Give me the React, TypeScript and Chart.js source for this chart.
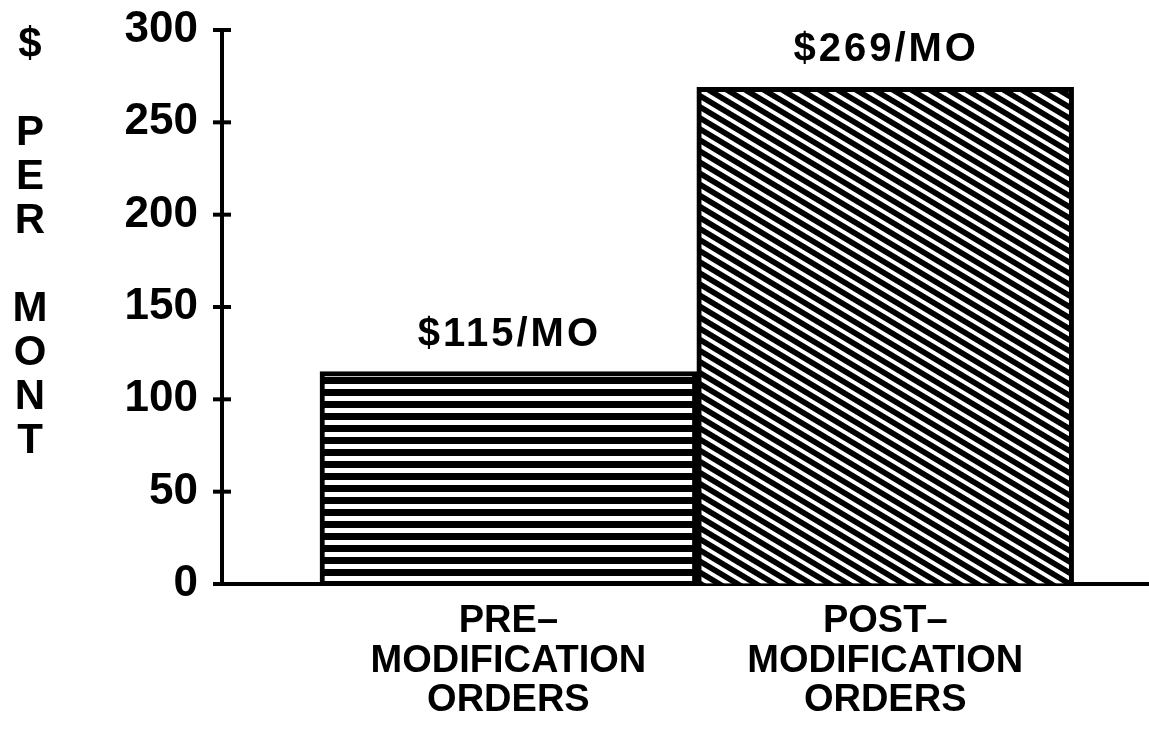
import React, { useEffect, useRef } from "react";
import { Chart, registerables } from "chart.js";

Chart.register(...registerables);

// ---- data ----
const categories: string[][] = [
  ["PRE–", "MODIFICATION", "ORDERS"],
  ["POST–", "MODIFICATION", "ORDERS"],
];
const values: number[] = [115, 269];
const yTicks: number[] = [0, 50, 100, 150, 200, 250, 300];
const yTitleWords: string[] = ["$", "PER", "MONT"];
const valueSuffix = "/MO";

const SANS = '"Liberation Sans", Arial, sans-serif';

function makeStripePattern(tileH: number, whiteH: number, angle: number, scale: number) {
  const tile = document.createElement("canvas");
  tile.width = 16;
  tile.height = tileH;
  const t = tile.getContext("2d")!;
  t.fillStyle = "#000";
  t.fillRect(0, 0, 16, tileH);
  t.fillStyle = "#fff";
  t.fillRect(0, 0, 16, whiteH);
  const ctx = document.createElement("canvas").getContext("2d")!;
  const p = ctx.createPattern(tile, "repeat")!;
  if (angle !== 0 || scale !== 1) {
    p.setTransform(new DOMMatrix().rotateSelf(angle).scaleSelf(scale, scale));
  }
  return p;
}

export default function App() {
  const ref = useRef<HTMLCanvasElement>(null);

  useEffect(() => {
    const canvas = ref.current!;
    const prePattern = makeStripePattern(12, 5, 0, 1);
    const postPattern = makeStripePattern(10, 4, 31, 0.95);

    const crossTicks = {
      id: "crossTicks",
      afterDraw(chart: any) {
        const ys = chart.scales.y;
        const ctx = chart.ctx;
        ctx.save();
        ctx.strokeStyle = "#000";
        ctx.lineWidth = 4;
        for (const t of ys.ticks) {
          const y = ys.getPixelForValue(t.value);
          ctx.beginPath();
          ctx.moveTo(ys.right - 9, y);
          ctx.lineTo(ys.right + 9, y);
          ctx.stroke();
        }
        ctx.restore();
      },
    };

    const valueLabels = {
      id: "valueLabels",
      afterDatasetsDraw(chart: any) {
        const meta = chart.getDatasetMeta(0);
        const ctx = chart.ctx;
        ctx.save();
        ctx.fillStyle = "#000";
        ctx.font = `bold 40px ${SANS}`;
        (ctx as any).letterSpacing = "3px";
        ctx.textAlign = "center";
        ctx.textBaseline = "alphabetic";
        meta.data.forEach((el: any, i: number) => {
          ctx.fillText(`$${values[i]}${valueSuffix}`, el.x + 1, el.y - 26);
        });
        ctx.restore();
      },
    };

    const yTitle = {
      id: "yTitle",
      afterDraw(chart: any) {
        const ctx = chart.ctx;
        ctx.save();
        ctx.fillStyle = "#000";
        ctx.font = `bold 42px ${SANS}`;
        ctx.textAlign = "center";
        ctx.textBaseline = "middle";
        const letters: string[] = [];
        yTitleWords.forEach((w, wi) => {
          if (wi > 0) letters.push("");
          for (const ch of w) letters.push(ch);
        });
        letters.forEach((ch, i) => {
          if (ch) ctx.fillText(ch, 30, 45 + i * 44);
        });
        ctx.restore();
      },
    };

    const chart = new Chart(canvas, {
      type: "bar",
      data: {
        datasets: [
          {
            data: values.map((v, i) => ({ x: i + 1, y: v })) as any,
            backgroundColor: [prePattern, postPattern] as any,
            borderColor: "#000",
            borderWidth: 5,
            barPercentage: 1,
            categoryPercentage: 1,
          },
        ],
      },
      options: {
        responsive: false,
        animation: false,
        layout: { padding: { top: 30, left: 0, right: 0, bottom: 0 } },
        plugins: {
          legend: { display: false },
          tooltip: { enabled: false },
        },
        scales: {
          x: {
            type: "linear",
            offset: false,
            min: 0.24,
            max: 2.7,
            grid: { display: false, drawTicks: false, offset: false },
            border: { display: true, color: "#000", width: 4 },
            afterBuildTicks: (s: any) => {
              s.ticks = categories.map((_, i) => ({ value: i + 1 }));
            },
            afterFit: (s: any) => {
              s.height = 153;
            },
            ticks: {
              color: "#000",
              padding: 18,
              autoSkip: false,
              maxRotation: 0,
              font: { family: SANS, weight: "bold", size: 38, lineHeight: 1.04 },
              callback: (v: any) => categories[Math.round(Number(v)) - 1] ?? "",
            },
          },
          y: {
            type: "linear",
            min: 0,
            max: 300,
            grid: {
              display: true,
              drawOnChartArea: false,
              drawTicks: true,
              tickLength: 24,
              color: "rgba(0,0,0,0)",
            },
            border: { display: true, color: "#000", width: 4 },
            afterBuildTicks: (s: any) => {
              s.ticks = yTicks.map((v) => ({ value: v }));
            },
            afterFit: (s: any) => {
              s.width = 222;
            },
            ticks: {
              color: "#000",
              padding: 0,
              font: { family: SANS, weight: "bold", size: 44 },
            },
          },
        },
      } as any,
      plugins: [crossTicks, valueLabels, yTitle],
    });

    return () => chart.destroy();
  }, []);

  return (
    <div style={{ position: "absolute", left: 0, top: 0, width: 1149, height: 737, background: "#fff" }}>
      <canvas ref={ref} width={1149} height={737} style={{ display: "block" }} />
    </div>
  );
}
